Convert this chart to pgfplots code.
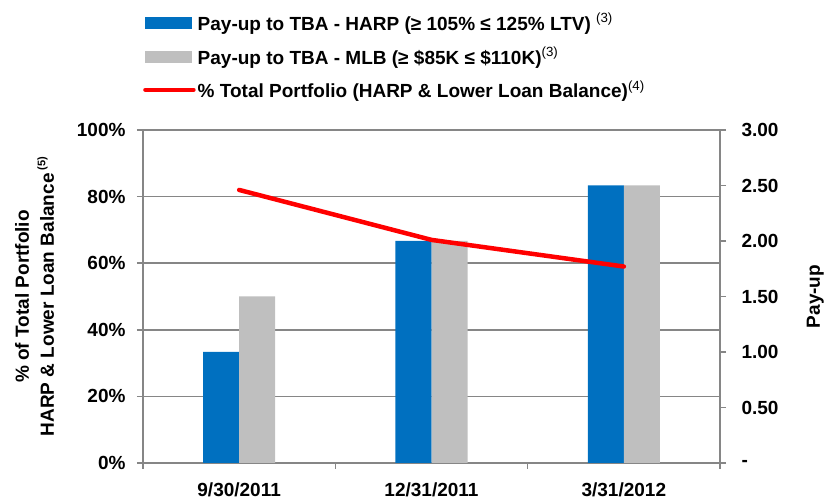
\documentclass[border=0pt]{standalone}
\usepackage{fontspec}
\setmainfont{Liberation Sans}
\usepackage{pgfplots}
\pgfplotsset{compat=1.18}
\definecolor{harp}{RGB}{0,112,192}
\definecolor{mlb}{RGB}{191,191,191}
\definecolor{axgray}{RGB}{134,134,134}
\definecolor{lred}{RGB}{255,0,0}
\newcommand{\cf}{\fontsize{19bp}{22bp}\selectfont\bfseries}
\pgfplotsset{
  base/.style={
    scale only axis, width=577bp, height=333bp,
    at={(143bp,41bp)}, anchor=south west,
    xmin=-0.5, xmax=2.5,
    /pgf/number format/assume math mode=true,
    tick label style={font=\cf},
    label style={font=\cf},
    axis line style={axgray, line width=1.5bp},
    tick style={axgray, line width=1.5bp},
    tick align=outside, major tick length=6bp,
    clip=false,
  }
}
\begin{document}
\begin{tikzpicture}
\path[use as bounding box] (0,0) rectangle (830bp,504bp);
% left axis with grid and category labels
\begin{axis}[base,
  ymin=0, ymax=100,
  axis x line*=bottom, axis y line*=left,
  ytick={0,20,40,60,80,100},
  yticklabel={\pgfmathprintnumber{\tick}\%},
  yticklabel style={xshift=-8bp},
  ymajorgrids, grid style={axgray, line width=1.5bp},
  xtick={-0.5,0.5,1.5,2.5},
  x tick label as interval,
  xticklabels={9/30/2011,12/31/2011,3/31/2012},
  xticklabel style={yshift=-10bp},
  ylabel={\% of Total Portfolio\\[3bp]HARP \& Lower Loan Balance\,\raisebox{0.45em}{\fontsize{11bp}{11bp}\selectfont(5)}},
  ylabel style={align=center, at={(axis description cs:-0.188,0.5)}, anchor=center},
]
\addplot[draw=none] coordinates {(0,0)};
\end{axis}
% right axis with bars
\begin{axis}[base,
  ymin=0, ymax=3,
  axis y line*=right, axis x line=none,
  ytick={0,0.5,1,1.5,2,2.5,3},
  yticklabels={-,0.50,1.00,1.50,2.00,2.50,3.00},
  yticklabel style={xshift=12bp},
  ylabel={Pay-up},
  ylabel style={at={(axis description cs:1.165,0.5)}, anchor=center},
  ybar, bar width=0.1875,
]
\addplot[fill=harp, draw=none, bar shift=-0.09375] coordinates {(0,1.00) (1,2.00) (2,2.50)};
\addplot[fill=mlb, draw=none, bar shift=0.09375] coordinates {(0,1.50) (1,2.00) (2,2.50)};
\end{axis}
% line on left scale, plus legend
\begin{axis}[base,
  ymin=0, ymax=100, hide axis,
  legend style={at={(axis description cs:0.0,1.357)}, anchor=north west,
    draw=none, fill=none, font=\cf, inner sep=0pt, row sep=11bp,
    nodes={inner sep=2bp}},
  legend cell align=left,
]
\addlegendimage{legend image code/.code={\fill[harp] (0bp,-5.5bp) rectangle (46bp,5.5bp);}}
\addlegendentry{Pay-up to TBA - HARP (≥ 105\% ≤ 125\% LTV) \textsuperscript{\mdseries(3)}}
\addlegendimage{legend image code/.code={\fill[mlb] (0bp,-5.5bp) rectangle (46bp,5.5bp);}}
\addlegendentry{Pay-up to TBA - MLB (≥ \$85K ≤ \$110K)\textsuperscript{\mdseries(3)}}
\addplot[lred, line width=4.5bp, line cap=round,
  legend image code/.code={\draw[lred, line width=4.5bp, line cap=round] (0bp,0bp) -- (48bp,0bp);}]
  coordinates {(0,82) (1,67) (2,59)};
\addlegendentry{\% Total Portfolio (HARP \& Lower Loan Balance)\textsuperscript{\mdseries(4)}}
\end{axis}
\end{tikzpicture}
\end{document}
